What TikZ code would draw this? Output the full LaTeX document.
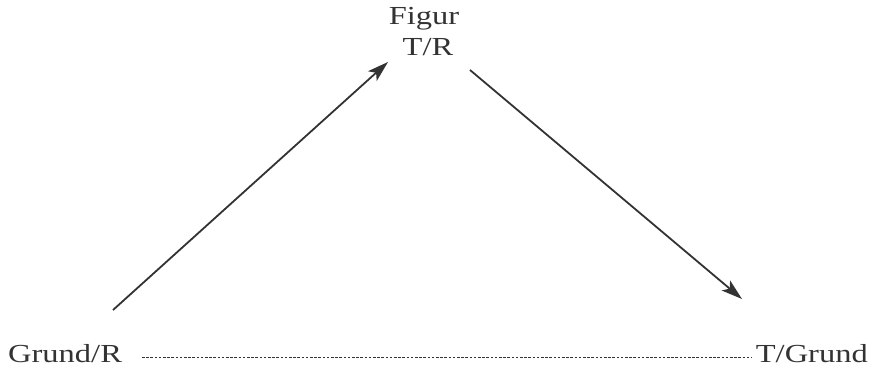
\documentclass[tikz,border=0pt]{standalone}
\usepackage{fontspec}
\setmainfont{Liberation Serif}[FakeStretch=1.25]
\usetikzlibrary{arrows.meta}
\definecolor{ink}{HTML}{333333}
\begin{document}
\begin{tikzpicture}[x=1pt,y=-1pt,
  lbl/.style={inner sep=0pt,anchor=base,text=ink,font=\fontsize{26}{28}\selectfont},
  arr/.style={draw=ink,line width=1.8pt,-{Stealth[length=21pt,width=13pt,inset=5pt]}},
  dotline/.style={draw=ink,line width=1pt,dash pattern=on 2.6pt off 1.6pt}]
\useasboundingbox (0,0) rectangle (874,367);
\node[lbl] (figur) at (424,24) {Figur};
\node[lbl] (tr) at (428,55) {T/R};
\node[lbl,anchor=base west] (grund) at (8,362) {Grund/R};
\node[lbl,anchor=base east] (tgrund) at (868,362) {T/Grund};
\coordinate (a1s) at (113,310);
\coordinate (a1e) at (388,62);
\coordinate (a2s) at (470,70);
\coordinate (a2e) at (742,299);
\coordinate (ds) at (142,357);
\coordinate (de) at (752,357);
\draw[arr] (a1s) -- (a1e);
\draw[arr] (a2s) -- (a2e);
\draw[dotline] (ds) -- (de);
\end{tikzpicture}
\end{document}
